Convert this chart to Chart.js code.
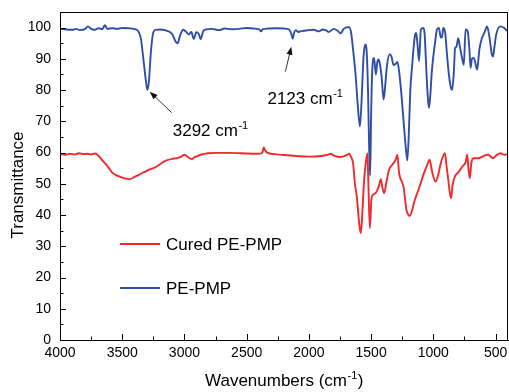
<!DOCTYPE html>
<html><head><meta charset="utf-8">
<script src="https://cdn.jsdelivr.net/npm/chart.js@4.4.0/dist/chart.umd.min.js"></script>
<style>html,body{margin:0;padding:0;background:#fff;}#wrap{width:509px;height:392px;}</style>
</head><body><div id="wrap"><canvas id="c" width="509" height="392"></canvas></div>
<script>
// ---- data ----
const xTicks = [4000, 3500, 3000, 2500, 2000, 1500, 1000, 500];
const xMinorTicks = [3750, 3250, 2750, 2250, 1750, 1250, 750];
const yTicks = [0, 10, 20, 30, 40, 50, 60, 70, 80, 90, 100];
const yMinorTicks = [5, 15, 25, 35, 45, 55, 65, 75, 85, 95];
const seriesLabels = ['Cured PE-PMP', 'PE-PMP'];

const pePmpWn = [4000,3950,3900,3870,3840,3800,3775,3750,3720,3690,3660,3640,3620,3580,3540,3500,3450,3400,3370,3350,3330,3310,3297,3285,3270,3250,3230,3200,3150,3100,3070,3055,3035,3010,2990,2965,2945,2925,2905,2885,2870,2850,2830,2780,2720,2680,2620,2560,2500,2450,2400,2384,2370,2330,2270,2200,2160,2140,2130,2120,2105,2085,2060,2000,1960,1920,1890,1860,1840,1800,1770,1745,1720,1690,1676,1660,1645,1625,1605,1590,1575,1562,1550,1543,1535,1525,1516,1508,1500,1490,1476,1462,1450,1441,1430,1415,1400,1390,1372,1350,1335,1320,1300,1289,1275,1255,1235,1220,1209,1198,1185,1170,1160,1145,1138,1128,1115,1100,1080,1070,1058,1045,1035,1025,1012,1000,985,970,955,940,930,920,905,890,875,860,848,835,825,815,800,785,765,755,741,725,710,701,690,675,665,648,630,610,590,568,550,530,520,510,495,460,430,410,400];
const pePmpT  = [99.6,99.4,99.3,99.6,99.2,99.5,100.4,99.6,99.3,99.8,99.5,100.8,99.6,99.8,99.6,99.9,99.8,99.5,98.8,96.5,90,83,80,83,92,98.5,99.3,99.4,99.1,98,95.5,95,97.5,99.3,98.8,97.8,98.6,96.4,98.5,98,96.3,98.8,99.4,99.6,99.2,99.7,99.5,99.6,99.9,99.7,99.4,98.8,99.5,99.7,99.8,99.7,99.4,97.8,96.5,98.2,99.2,98.6,98.9,99.2,99.3,98.8,99.4,99.1,98.6,99.6,99.0,98.2,99.6,100.1,100.1,98.2,93,85,74,68.4,78,90,94.2,94.6,92,80,62,52.6,72,87,90.3,85,89,89.8,88.5,84,77,80,88,91.5,90.5,88,88.5,89,86,78,68,61,57.5,65,80,88,93,98,98.3,95,89.3,99.4,99.9,98,88,78,74.3,78,86,90.8,95.6,99.5,99.9,96.8,97,99.9,98.5,91.3,85,81,80.1,86,93.5,93.8,96.6,93.5,89.5,88.1,99.4,99,93,87.1,90,90.3,89.2,86.5,93,96.6,98.3,100.4,97.2,91.5,90.8,93.5,97.8,100.4,99.9,99.1,99.2];

const curedWn = [4000,3960,3920,3880,3850,3810,3780,3750,3720,3706,3680,3660,3639,3610,3580,3540,3500,3460,3439,3400,3370,3320,3280,3239,3200,3150,3100,3060,3030,3000,2985,2960,2940,2920,2900,2870,2812,2750,2650,2550,2420,2375,2363,2350,2330,2280,2200,2100,2000,1900,1850,1823,1800,1760,1720,1690,1676,1660,1645,1630,1615,1595,1583,1570,1558,1545,1530,1522,1510,1498,1485,1465,1450,1436,1422,1410,1396,1375,1356,1320,1300,1289,1275,1240,1215,1200,1190,1170,1155,1115,1075,1045,1030,1010,982,960,940,907,895,880,867,857,845,825,805,765,740,728,718,707,695,680,640,600,560,520,490,460,430,400];
const curedT  = [59.5,59.3,59.6,59.4,59.8,59.5,59.6,59.4,59.7,59.5,58.5,57.5,56.6,55.2,53.6,52.6,52,51.6,51.5,52.2,52.8,53.8,54.6,55.2,56.2,57.4,58.0,58.2,58.6,59.3,59.0,58.2,57.9,58.5,58.8,59.3,59.8,59.9,59.9,59.8,59.6,59.8,61.6,60.6,59.9,59.5,59.2,58.9,58.7,58.9,59.3,59.6,59.0,58.6,58.8,59.3,59.6,58.5,56.6,50,45.9,37,34.2,41,50.2,56,59.8,50,35.8,44.9,46.5,47,48,49.5,51.5,49,47,51,54.5,56.6,58,59.3,53.4,49.1,41.5,40,39.7,41.5,44,48.6,53.4,56.5,57.7,53.9,50.7,53,56.6,59.8,56.1,51.3,47,45.4,49.7,52.5,53.4,55.6,57,59.3,55,51.8,56.5,58.2,58.2,58.8,59.3,58.2,59.2,59.8,59.3,59.5];

// peak annotations (data units)
const annotations = [
  { text: '3292 cm', sup: '-1', tx: 3094, ty: 65.4, fromX: 3103, fromY: 72.8, toX: 3279, toY: 79.5 },
  { text: '2123 cm', sup: '-1', tx: 2333, ty: 75.6, fromX: 2189, fromY: 85.9, toX: 2141, toY: 93.9 }
];

const FONT = '"Liberation Sans", Arial, sans-serif';
const RED = '#f02a2a';
const BLUE = '#2f4ea8';

function toXY(wn, t) { return wn.map((w, i) => ({ x: w, y: t[i] })); }

function supText(ctx, x, y, main, sup, size) {
  ctx.font = size + 'px ' + FONT;
  ctx.fillText(main, x, y);
  const w = ctx.measureText(main).width;
  ctx.font = Math.round(size * 0.62) + 'px ' + FONT;
  ctx.fillText(sup, x + w + 0.5, y - size * 0.42);
  return w + ctx.measureText(sup).width + 0.5;
}
function supWidth(ctx, main, sup, size) {
  ctx.font = size + 'px ' + FONT;
  const w = ctx.measureText(main).width;
  ctx.font = Math.round(size * 0.62) + 'px ' + FONT;
  return w + ctx.measureText(sup).width + 0.5;
}

const decor = {
  id: 'decor',
  afterDraw(chart) {
    const ctx = chart.ctx, a = chart.chartArea;
    const xs = chart.scales.x, ys = chart.scales.y;
    ctx.save();
    // frame
    ctx.strokeStyle = '#000'; ctx.lineWidth = 1;
    ctx.strokeRect(Math.round(a.left) + 0.5, Math.round(a.top) + 0.5, Math.round(a.right - a.left) - 1, Math.round(a.bottom - a.top));
    // inward ticks
    ctx.beginPath();
    xTicks.forEach(v => { const p = Math.round(xs.getPixelForValue(v)) + 0.5; ctx.moveTo(p, a.bottom); ctx.lineTo(p, a.bottom - 6); });
    xMinorTicks.forEach(v => { const p = Math.round(xs.getPixelForValue(v)) + 0.5; ctx.moveTo(p, a.bottom); ctx.lineTo(p, a.bottom - 3.5); });
    yTicks.forEach(v => { const p = Math.round(ys.getPixelForValue(v)) + 0.5; ctx.moveTo(a.left, p); ctx.lineTo(a.left + 6, p); });
    yMinorTicks.forEach(v => { const p = Math.round(ys.getPixelForValue(v)) + 0.5; ctx.moveTo(a.left, p); ctx.lineTo(a.left + 3.5, p); });
    ctx.stroke();

    // annotations
    ctx.fillStyle = '#000';
    ctx.textBaseline = 'alphabetic'; ctx.textAlign = 'left';
    annotations.forEach(an => {
      supText(ctx, xs.getPixelForValue(an.tx), ys.getPixelForValue(an.ty), an.text, an.sup, 17);
      const x1 = xs.getPixelForValue(an.fromX), y1 = ys.getPixelForValue(an.fromY);
      const x2 = xs.getPixelForValue(an.toX), y2 = ys.getPixelForValue(an.toY);
      const ang = Math.atan2(y2 - y1, x2 - x1);
      const hl = 8, hw = 3;
      ctx.strokeStyle = '#333'; ctx.lineWidth = 1;
      ctx.beginPath(); ctx.moveTo(x1, y1);
      ctx.lineTo(x2 - Math.cos(ang) * hl * 0.8, y2 - Math.sin(ang) * hl * 0.8); ctx.stroke();
      ctx.fillStyle = '#111';
      ctx.beginPath(); ctx.moveTo(x2, y2);
      ctx.lineTo(x2 - Math.cos(ang) * hl + Math.sin(ang) * hw, y2 - Math.sin(ang) * hl - Math.cos(ang) * hw);
      ctx.lineTo(x2 - Math.cos(ang) * hl - Math.sin(ang) * hw, y2 - Math.sin(ang) * hl + Math.cos(ang) * hw);
      ctx.closePath(); ctx.fill();
      ctx.fillStyle = '#000';
    });

    // legend (inside plot)
    const legY = [244, 288];
    chart.data.datasets.forEach((ds, i) => {
      ctx.strokeStyle = ds.borderColor; ctx.lineWidth = 1.8;
      ctx.beginPath(); ctx.moveTo(120, legY[i]); ctx.lineTo(160, legY[i]); ctx.stroke();
      ctx.fillStyle = '#000';
      ctx.font = '17px ' + FONT; ctx.textBaseline = 'middle';
      ctx.fillText(ds.label, 166, legY[i] + 1);
    });

    // axis titles
    ctx.textBaseline = 'alphabetic';
    const cx = (a.left + a.right) / 2;
    const tw = supWidth(ctx, 'Wavenumbers (cm', '-1', 17);
    ctx.font = '17px ' + FONT;
    const closeW = ctx.measureText(')').width;
    const sx = cx - (tw + closeW) / 2;
    const w1 = supText(ctx, sx, 386, 'Wavenumbers (cm', '-1', 17);
    ctx.font = '17px ' + FONT;
    ctx.fillText(')', sx + w1 + 0.5, 386);

    ctx.translate(23, 185); ctx.rotate(-Math.PI / 2);
    ctx.textAlign = 'center';
    ctx.font = '17px ' + FONT;
    ctx.fillText('Transmittance', 0, 0);
    ctx.restore();
  }
};

new Chart(document.getElementById('c'), {
  type: 'line',
  data: {
    datasets: [
      { label: seriesLabels[0], data: toXY(curedWn, curedT), borderColor: RED, borderWidth: 1.9, pointRadius: 0, cubicInterpolationMode: 'monotone', fill: false },
      { label: seriesLabels[1], data: toXY(pePmpWn, pePmpT), borderColor: BLUE, borderWidth: 1.9, pointRadius: 0, cubicInterpolationMode: 'monotone', fill: false }
    ]
  },
  options: {
    responsive: false, devicePixelRatio: 1, animation: false,
    layout: { padding: { top: 12, right: 1, left: 0, bottom: 0 } },
    plugins: { legend: { display: false }, tooltip: { enabled: false } },
    scales: {
      x: {
        type: 'linear', reverse: true, min: 400, max: 4000,
        afterBuildTicks: s => { s.ticks = xTicks.map(v => ({ value: v })); },
        afterFit: s => { s.height = 52; s.paddingLeft = 0; s.paddingRight = 0; },
        grid: { display: false, drawTicks: false },
        border: { display: true, color: '#000', width: 1 },
        ticks: { color: '#000', font: { family: FONT, size: 14 }, padding: 5, maxRotation: 0, autoSkip: false, callback: v => String(v) }
      },
      y: {
        min: 0, max: 105,
        afterBuildTicks: s => { s.ticks = yTicks.map(v => ({ value: v })); },
        afterFit: s => { s.width = 60; s.paddingTop = 0; s.paddingBottom = 0; },
        grid: { display: false, drawTicks: false },
        border: { display: true, color: '#000', width: 1 },
        ticks: { color: '#000', font: { family: FONT, size: 14 }, padding: 9, callback: v => String(v) }
      }
    }
  },
  plugins: [decor]
});
</script></body></html>
